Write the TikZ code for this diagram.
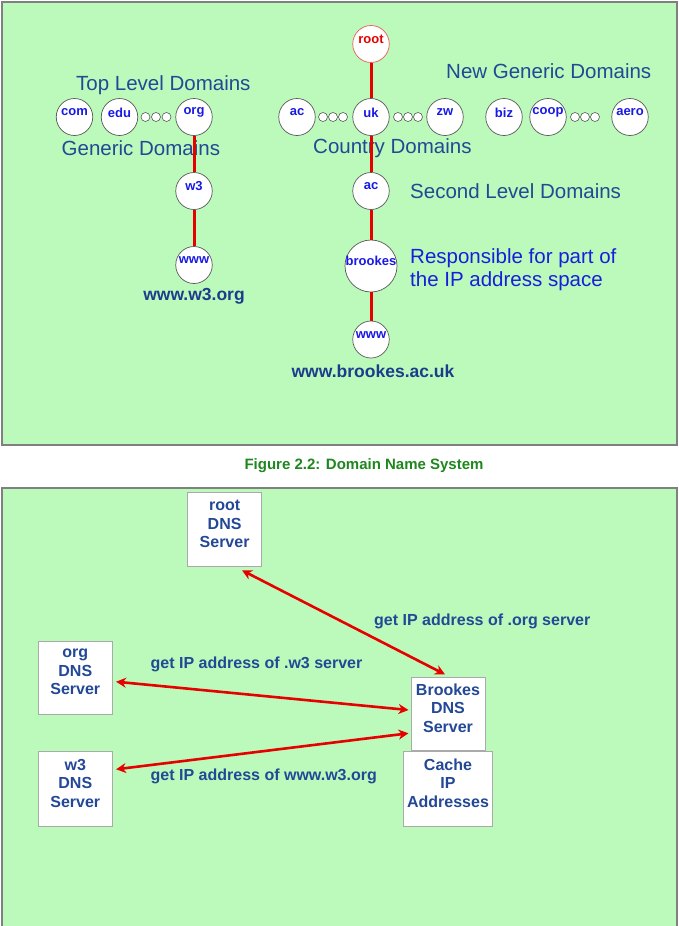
\documentclass[tikz,border=0pt]{standalone}
\usepackage{fontspec}
\setmainfont{Liberation Sans}
\usetikzlibrary{shapes.geometric,arrows.meta}
\definecolor{bggreen}{RGB}{187,250,187}
\definecolor{framegray}{RGB}{128,128,128}
\definecolor{txtblue}{RGB}{35,72,150}
\definecolor{urlblue}{RGB}{30,60,140}
\definecolor{nodeblue}{RGB}{25,25,230}
\definecolor{respblue}{RGB}{25,30,220}
\definecolor{linered}{RGB}{230,0,0}
\definecolor{rootred}{RGB}{235,90,90}
\definecolor{capgreen}{RGB}{30,135,30}
\definecolor{boxgray}{RGB}{170,170,170}
\begin{document}
\begin{tikzpicture}[x=1pt,y=-1pt,
  panel/.style={fill=bggreen, draw=framegray, line width=2pt},
  domtxt/.style={font=\fontsize{13}{13}\selectfont\bfseries, text=nodeblue, inner sep=0pt, yshift=4.5pt},
  dom/.style={ellipse, draw=gray!70!black, fill=white, line width=0.7pt, minimum width=36.5pt, minimum height=37pt, inner sep=0pt},
  dotc/.style={circle, draw=gray!70!black, fill=white, line width=0.6pt, minimum size=9pt, inner sep=0pt},
  lbl/.style={font=\fontsize{20.5}{22.7}\selectfont, text=txtblue, inner sep=0pt, anchor=west},
  url/.style={font=\fontsize{17.5}{17.5}\selectfont\bfseries, text=urlblue, inner sep=0pt},
  tree/.style={draw=linered, line width=3pt},
  srv/.style={rectangle, draw=boxgray, fill=white, line width=1pt, inner sep=0pt},
  srvtxt/.style={font=\fontsize{16}{18.5}\selectfont\bfseries, text=txtblue, align=center, inner sep=0pt, yshift=5.5pt},
  msg/.style={font=\fontsize{16}{16}\selectfont\bfseries, text=txtblue, inner sep=0pt, anchor=west},
  req/.style={draw=linered, line width=2.6pt, {Stealth[length=10pt,width=10pt]}-{Stealth[length=10pt,width=10pt]}}
]
\useasboundingbox (0,0) rectangle (679,926);
\fill[white] (0,0) rectangle (679,926);
% panels
\draw[panel] (2,2) rectangle (677,445);
\draw[panel] (2,488) rectangle (677,940);

% ---------- top panel ----------
\node[lbl] (topl) at (76,85) {Top Level Domains};
\node[lbl] (newg) at (446,71) {New Generic Domains};
\node[lbl] (gen) at (61.5,148) {Generic Domains};
\node[lbl] (ctry) at (313,148) {Country Domains};
\node[lbl] (sld) at (410,191) {Second Level Domains};
\node[lbl, text=respblue, align=left] (resp) at (410,269.5) {Responsible for part of\\the IP address space};

\node[dom, draw=rootred, label={[domtxt, text=linered]center:root}] (root) at (371,44) {};
\node[dom, label={[domtxt]center:com}] (com) at (74.5,117) {};
\node[dom, label={[domtxt]center:edu}] (edu) at (119.5,117) {};
\node[dom, label={[domtxt]center:org}] (org) at (194,117) {};
\node[dom, label={[domtxt]center:ac}] (acc) at (297,117) {};
\node[dom, label={[domtxt]center:uk}] (uk) at (371,117) {};
\node[dom, label={[domtxt]center:zw}] (zw) at (445,117) {};
\node[dom, label={[domtxt]center:biz}] (biz) at (504,117) {};
\node[dom, label={[domtxt]center:coop}] (coop) at (548,117) {};
\node[dom, label={[domtxt]center:aero}] (aero) at (630,117) {};
\node[dom, label={[domtxt]center:w3}] (w3) at (194,191) {};
\node[dom, label={[domtxt]center:www}] (wwwa) at (194,265) {};
\node[dom, label={[domtxt]center:ac}] (acs) at (371,191) {};
\node[dom, minimum width=52pt, minimum height=52pt, label={[domtxt, yshift=1pt]center:brookes}] (brookes) at (371,266) {};
\node[dom, label={[domtxt]center:www}] (wwwb) at (371,339.5) {};

\node[dotc] (d1) at (145.5,117) {};
\node[dotc] (d2) at (156,117) {};
\node[dotc] (d3) at (166.5,117) {};
\node[dotc] (d4) at (323,117) {};
\node[dotc] (d5) at (333,117) {};
\node[dotc] (d6) at (343,117) {};
\node[dotc] (d7) at (398,117) {};
\node[dotc] (d8) at (408,117) {};
\node[dotc] (d9) at (418,117) {};
\node[dotc] (d10) at (575,117) {};
\node[dotc] (d11) at (585,117) {};
\node[dotc] (d12) at (595,117) {};

\draw[tree] (root) -- (uk);
\draw[tree] (uk) -- (acs);
\draw[tree] (acs) -- (brookes);
\draw[tree] (brookes) -- (wwwb);
\draw[tree] (org) -- (w3);
\draw[tree] (w3) -- (wwwa);

\node[url] (wurl) at (194,296.5) {www.w3.org};
\node[url] (burl) at (373,371) {www.brookes.ac.uk};

% caption
\node[font=\fontsize{15}{15}\selectfont\bfseries, text=capgreen, inner sep=0pt] (cap) at (364,466) {Figure 2.2: Domain Name System};

% ---------- bottom panel ----------
\node[srv, minimum width=74pt, minimum height=74pt, label={[srvtxt]center:root\\DNS\\Server}] (rootsrv) at (224.6,529.5) {};
\node[srv, minimum width=74.5pt, minimum height=73pt, label={[srvtxt]center:org\\DNS\\Server}] (orgsrv) at (75.3,677.7) {};
\node[srv, minimum width=74.5pt, minimum height=75pt, label={[srvtxt]center:w3\\DNS\\Server}] (w3srv) at (75.3,788.5) {};
\node[srv, minimum width=74pt, minimum height=73pt, label={[srvtxt]center:Brookes\\DNS\\Server}] (bsrv) at (448,713.7) {};
\node[srv, minimum width=89pt, minimum height=75pt, label={[srvtxt]center:Cache\\IP\\Addresses}] (cache) at (448,788.5) {};

\node[msg] (m1) at (374,621.7) {get IP address of .org server};
\node[msg] (m2) at (150.5,664.3) {get IP address of .w3 server};
\node[msg] (m3) at (150.5,776.7) {get IP address of www.w3.org};

\draw[req] ([shift={(17.4,3.3)}]rootsrv.south) -- ([shift={(-3,-2.3)}]bsrv.north);
\draw[req] ([shift={(3,4)}]orgsrv.east) -- ([shift={(-2,-3.7)}]bsrv.west);
\draw[req] ([shift={(-2,19.6)}]bsrv.west) -- ([shift={(3,-19.2)}]w3srv.east);
\end{tikzpicture}
\end{document}
